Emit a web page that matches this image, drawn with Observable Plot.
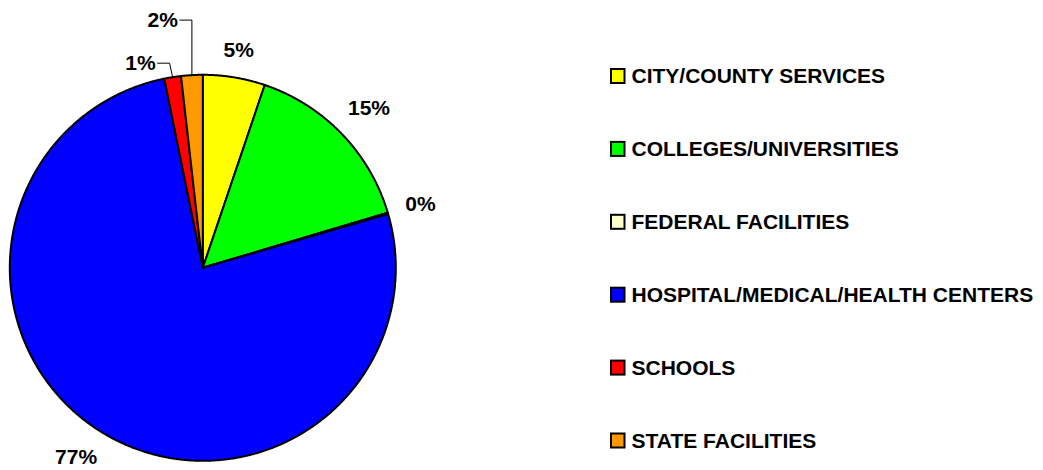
<!DOCTYPE html>
<html>
<head>
<meta charset="utf-8">
<script src="https://cdn.jsdelivr.net/npm/d3@7"></script>
<script src="https://cdn.jsdelivr.net/npm/@observablehq/plot@0.6"></script>
<style>
  html, body { margin: 0; padding: 0; background: #ffffff; }
  #chart { width: 1043px; height: 470px; }
</style>
</head>
<body>
<div id="chart"></div>
<script>
// ---- Data ----
const categories = [
  "CITY/COUNTY SERVICES",
  "COLLEGES/UNIVERSITIES",
  "FEDERAL FACILITIES",
  "HOSPITAL/MEDICAL/HEALTH CENTERS",
  "SCHOOLS",
  "STATE FACILITIES"
];
const values = [5.2, 15.2, 0.1, 76.3, 1.4, 1.8];
const labels = ["5%", "15%", "0%", "77%", "1%", "2%"];
const colors = ["#FFFF00", "#00FF00", "#FFFFCC", "#0000FF", "#FF0000", "#FF9900"];

// ---- Layout ----
const W = 1043, H = 470;
const cx = 202.3, cy = 267.3, R = 193;
const FONT = 21;
const total = d3.sum(values);

const px = (a, r) => cx + r * Math.sin(a);
const py = (a, r) => cy - r * Math.cos(a);

let cum = 0;
const slices = categories.map((c, i) => {
  const a0 = cum / total * 2 * Math.PI;
  cum += values[i];
  const a1 = cum / total * 2 * Math.PI;
  const pts = [{x: cx, y: cy}];
  const n = Math.max(2, Math.ceil((a1 - a0) / 0.004));
  for (let k = 0; k <= n; k++) {
    const a = a0 + (a1 - a0) * k / n;
    pts.push({x: px(a, R), y: py(a, R)});
  }
  pts.push({x: cx, y: cy});
  return {c, i, a0, a1, mid: (a0 + a1) / 2, color: colors[i], label: labels[i], value: values[i], pts};
});

// small slices crowded at the top-left get elbow leader lines
const isSmall = s => s.value >= 0.5 && s.value < 3 && s.mid > 1.5 * Math.PI;
const normal = slices.filter(s => !isSmall(s));
const small = slices.filter(isSmall);

const textW = s => ((s.length - 1) * 0.556 + 0.889) * FONT;
const yMax = H - 13.5;
const normalLabels = normal.map(s => {
  const w = textW(s.label), h = 16;
  const d = R + 17 + Math.abs(Math.sin(s.mid)) * w / 2 + Math.abs(Math.cos(s.mid)) * h / 2;
  let x = px(s.mid, d), y = py(s.mid, d);
  if (y > yMax) {
    // keep the label inside the chart area, sliding it along the same circle
    const dy = yMax - cy;
    const dx = Math.sqrt(Math.max(0, d * d - dy * dy));
    x = cx + Math.sign(Math.sin(s.mid)) * dx;
    y = yMax;
  }
  return {label: s.label, x, y};
});

const leaders = [];
const smallLabels = [];
small.forEach((s, k) => {
  const x0 = px(s.mid, R), y0 = py(s.mid, R);
  const rise = 14 + 41 * k;
  const ex = x0 - (k === 0 ? 3 : 0), ey = y0 - rise;
  const hx = ex - 12;
  leaders.push({id: k, x: x0, y: y0}, {id: k, x: ex, y: ey}, {id: k, x: hx, y: ey});
  smallLabels.push({label: s.label, x: hx - 2, y: ey});
});

const legendTop = 76, legendStep = 72.9;
const legend = categories.map((c, i) => ({c, color: colors[i], y: legendTop + i * legendStep}));

const marks = [
  ...slices.map(s => Plot.line(s.pts, {
    x: "x", y: "y", fill: s.color, stroke: "#000", strokeWidth: 2,
    strokeLinejoin: "round", curve: "linear"
  })),
  Plot.line(leaders, {x: "x", y: "y", z: "id", stroke: "#000", strokeWidth: 1}),
  Plot.text(normalLabels, {
    x: "x", y: "y", text: "label", fontSize: FONT, fontWeight: "bold",
    fill: "#000", textAnchor: "middle", lineAnchor: "middle"
  }),
  Plot.text(smallLabels, {
    x: "x", y: "y", text: "label", fontSize: FONT, fontWeight: "bold",
    fill: "#000", textAnchor: "end", lineAnchor: "middle"
  }),
  Plot.rect(legend, {
    x1: () => 611, x2: () => 624.5,
    y1: d => d.y - 7, y2: d => d.y + 7,
    fill: "color", stroke: "#000", strokeWidth: 2
  }),
  Plot.text(legend, {
    x: () => 631, y: "y", text: "c", fontSize: FONT, fontWeight: "bold",
    fill: "#000", textAnchor: "start", lineAnchor: "middle"
  })
];

const chart = Plot.plot({
  width: W,
  height: H,
  margin: 0,
  x: {domain: [0, W], range: [0, W], axis: null},
  y: {domain: [0, H], range: [0, H], axis: null},
  color: {type: "identity"},
  style: {fontFamily: "'Liberation Sans', Arial, sans-serif", background: "#fff", overflow: "visible"},
  marks
});
document.getElementById("chart").appendChild(chart);
</script>
</body>
</html>
